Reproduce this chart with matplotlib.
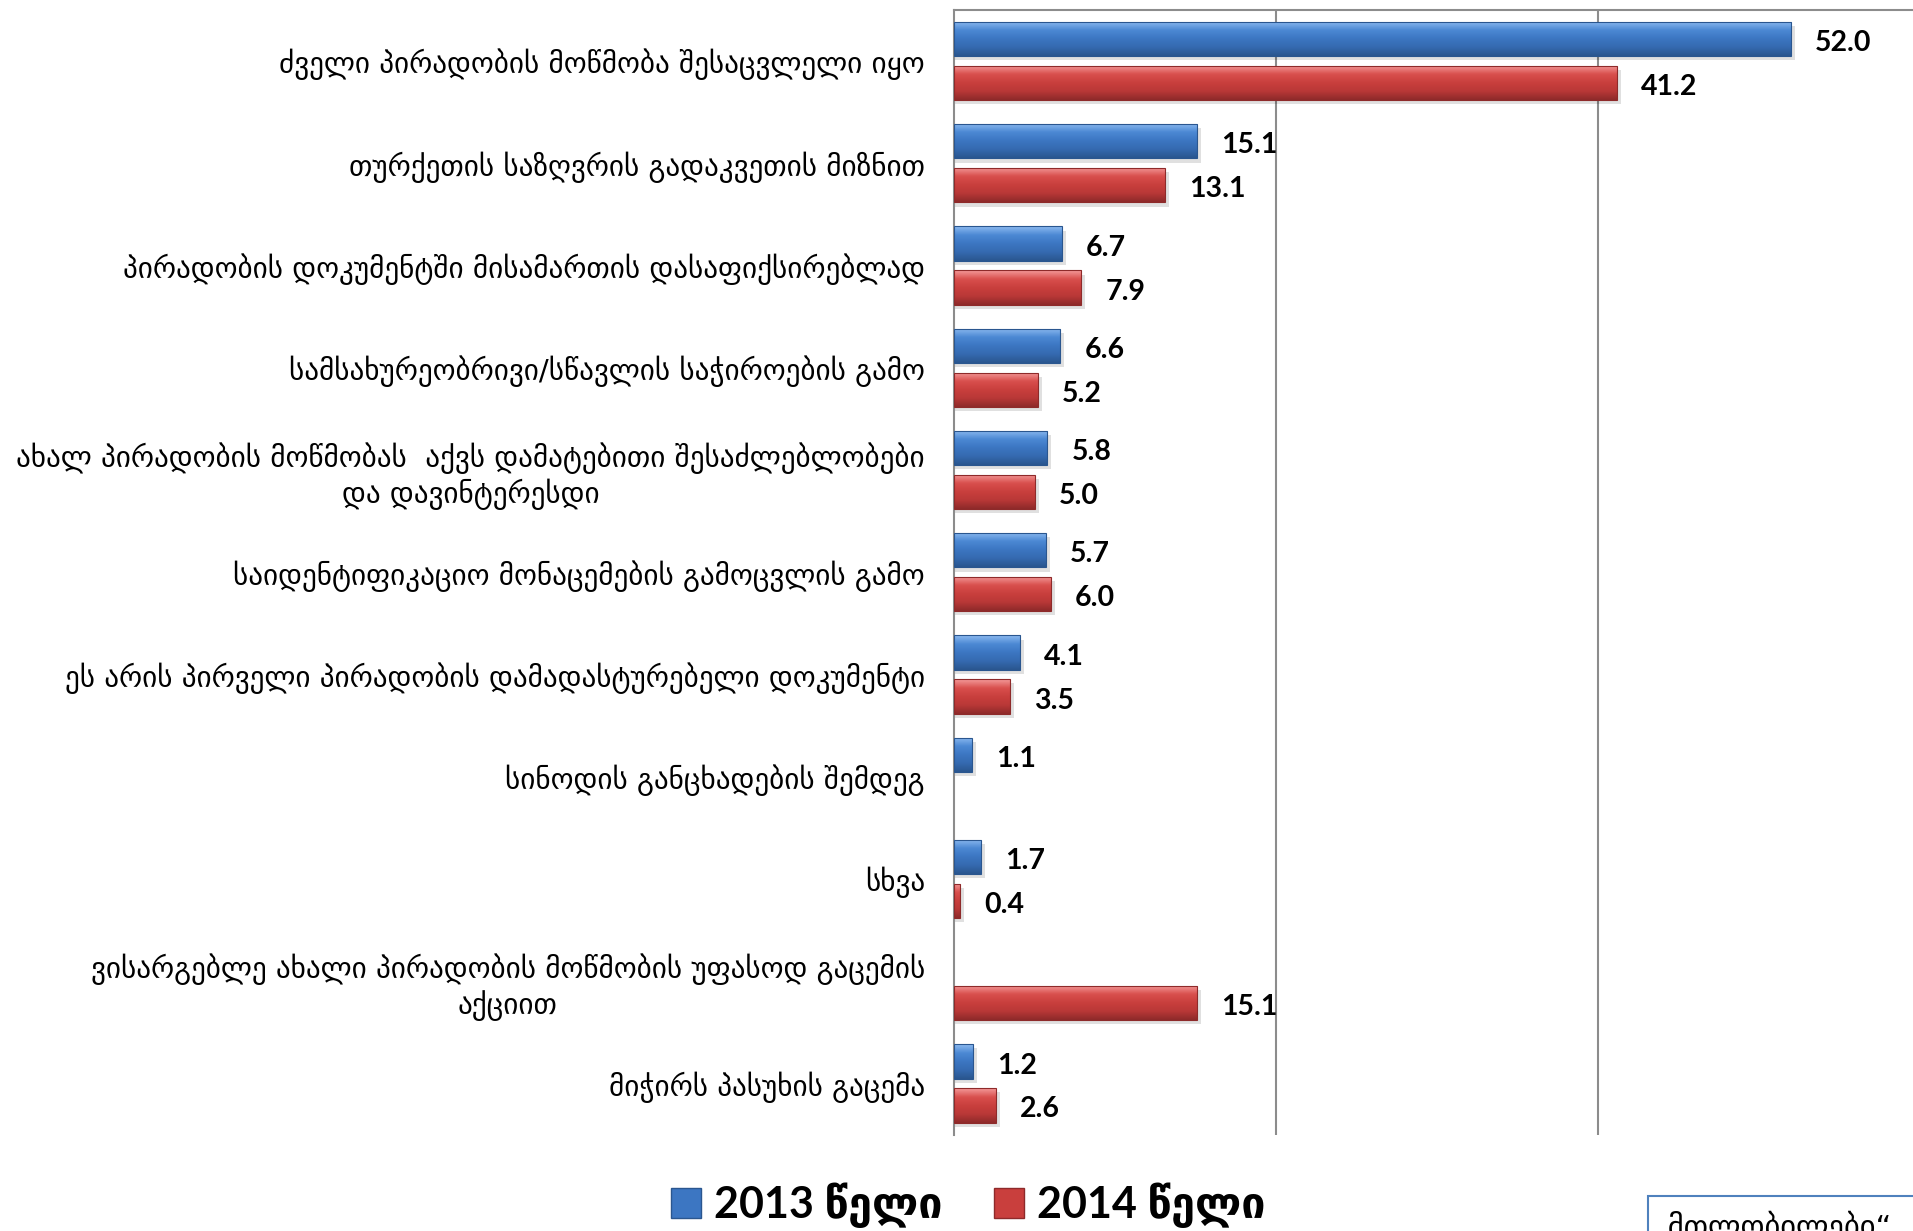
import numpy as np
import matplotlib
matplotlib.use("Agg")
import matplotlib.pyplot as plt
from matplotlib.colors import LinearSegmentedColormap
from matplotlib.patches import Patch, Rectangle
from matplotlib.font_manager import FontProperties

# data
categories = [
    "ძველი პირადობის მოწმობა შესაცვლელი იყო",
    "თურქეთის საზღვრის გადაკვეთის მიზნით",
    "პირადობის დოკუმენტში მისამართის დასაფიქსირებლად",
    "სამსახურეობრივი/სწავლის საჭიროების გამო",
    "ახალ პირადობის მოწმობას  აქვს დამატებითი შესაძლებლობები\nდა დავინტერესდი",
    "საიდენტიფიკაციო მონაცემების გამოცვლის გამო",
    "ეს არის პირველი პირადობის დამადასტურებელი დოკუმენტი",
    "სინოდის განცხადების შემდეგ",
    "სხვა",
    "ვისარგებლე ახალი პირადობის მოწმობის უფასოდ გაცემის\nაქციით",
    "მიჭირს პასუხის გაცემა",
]
values_2013 = [52.0, 15.1, 6.7, 6.6, 5.8, 5.7, 4.1, 1.1, 1.7, np.nan, 1.2]
values_2014 = [41.2, 13.1, 7.9, 5.2, 5.0, 6.0, 3.5, np.nan, 0.4, 15.1, 2.6]
series_names = ["2013 წელი", "2014 წელი"]
box_text = "„მთლობილები“"

W, H = 1913, 1231
fig = plt.figure(figsize=(W / 100, H / 100), dpi=100)
ax = fig.add_axes([954 / W, 1 - 1134.6 / H, (1920 - 954) / W, (1134.6 - 10) / H])

geo_font = ["DejaVu Sans Condensed", "DejaVu Sans"]
num_font = ["Lato", "DejaVu Sans"]

blue_cmap = LinearSegmentedColormap.from_list(
    "b", ["#8DBAF0", "#4C89D4", "#3C76C2", "#356AB0", "#2A568F"])
red_cmap = LinearSegmentedColormap.from_list(
    "r", ["#F49A9A", "#D9504E", "#C93F3D", "#B93837", "#8E2A2A"])

n = len(categories)
y = np.arange(n)
bh = 0.335
off = 0.215
grad = np.linspace(0, 1, 64).reshape(-1, 1)

for vals, sign, face, edge, cmap in [
    (values_2013, -1, "#3C76C2", "#2A568F", blue_cmap),
    (values_2014, 1, "#C93F3D", "#8E2A2A", red_cmap),
]:
    v = np.nan_to_num(np.array(vals, dtype=float))
    bars = ax.barh(y + sign * off, v, height=bh, color=face, zorder=2)
    for p, val in zip(bars, vals):
        if np.isnan(val):
            continue
        x0, y0 = p.get_xy()
        w, h = p.get_width(), p.get_height()
        # soft drop shadow
        ax.add_patch(Rectangle((x0, y0 + 0.04), w + 0.25, h, color="#000000",
                               alpha=0.12, zorder=1.5, lw=0))
        im = ax.imshow(grad, extent=[x0, x0 + w, y0, y0 + h], origin="lower",
                       cmap=cmap, aspect="auto", zorder=3, interpolation="bicubic")
        im.set_clip_path(p)
        ax.add_patch(Rectangle((x0, y0), w, h, fill=False, edgecolor=edge,
                               lw=0.8, zorder=4))
        ax.annotate(f"{val:.1f}", xy=(val, y0 + h / 2), xytext=(24, -4),
                    textcoords="offset pixels", va="center", ha="left",
                    fontsize=20.5, fontweight="bold", family=num_font, zorder=5)

ax.set_xlim(0, 60)
ax.set_ylim(n - 0.5, -0.5)
ax.set_xticks([20, 40, 60])
ax.set_xticklabels([])
ax.tick_params(axis="x", length=0)
ax.grid(axis="x", color="#8C8C8C", lw=1.5, zorder=0)
ax.set_axisbelow(True)

ax.set_yticks(y)
ax.set_yticklabels(categories, fontsize=21, family=geo_font)
ax.tick_params(axis="y", length=0, pad=21)
for t in ax.get_yticklabels():
    t.set_multialignment("center")

for side in ["bottom", "right"]:
    ax.spines[side].set_visible(False)
for side in ["left", "top"]:
    ax.spines[side].set_color("#8C8C8C")
    ax.spines[side].set_linewidth(1.5)

handles = [Patch(facecolor="#3C76C2", edgecolor="#2A568F"),
           Patch(facecolor="#C93F3D", edgecolor="#8E2A2A")]
fig.legend(handles, series_names, loc="center", bbox_to_anchor=(0.506, 0.021),
           ncol=2, frameon=False, handlelength=0.7, handleheight=0.7,
           handletextpad=0.3, columnspacing=1.2,
           prop=FontProperties(family=num_font, weight="bold", size=31))

# partly visible note box at the bottom right
fig.add_artist(Rectangle((1648 / W, -0.05), 0.2, 0.05 + 1 - 1196 / H,
                         transform=fig.transFigure, fill=False,
                         edgecolor="#4F81BD", lw=1.5))
fig.text(1652 / W, 1 - 1211 / H, box_text, ha="left", va="top",
         fontsize=22, family=geo_font)

fig.savefig("out.png", dpi=100)
